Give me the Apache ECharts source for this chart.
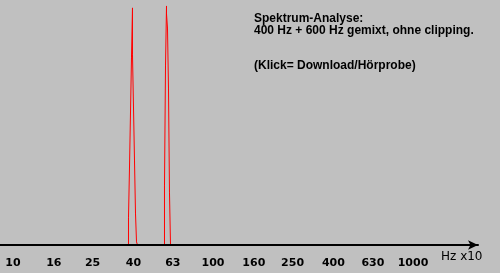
<!DOCTYPE html>
<html>
<head>
<meta charset="utf-8">
<script src="https://cdn.jsdelivr.net/npm/echarts@6/dist/echarts.min.js"></script>
<style>
html,body{margin:0;padding:0;background:#c0c0c0;}
#chart{width:500px;height:273px;}
</style>
</head>
<body>
<div id="chart"></div>
<script>
// Tick labels of the logarithmic frequency axis (Hz x10)
const tickValues = [10, 16, 25, 40, 63, 100, 160, 250, 400, 630, 1000];
const axisName = 'Hz x10';
const infoTitle = ['Spektrum-Analyse:', '400 Hz + 600 Hz gemixt, ohne clipping.'];
const infoLink = '(Klick= Download/Hörprobe)';

// Spectrum outline around 400 Hz (frequency in Hz x10, level 0..100)
const peak400Freq  = [37.80, 37.80, 38.24, 38.24, 38.68, 38.68, 39.13, 39.13, 39.58, 39.58, 39.58, 40.04, 40.04, 40.50, 40.50, 40.97, 40.97, 41.45, 41.45, 41.93, 41.93];
const peak400Level = [0, 11.3, 11.3, 32.5, 32.5, 55.0, 55.0, 78.3, 78.3, 98.8, 79.2, 79.2, 57.5, 57.5, 35.4, 35.4, 13.3, 13.3, 1.3, 1.3, 0];

// Spectrum outline around 600 Hz
const peak600Freq  = [57.21, 57.21, 57.88, 57.88, 58.55, 58.55, 58.55, 59.22, 59.22, 59.91, 59.91, 60.60, 60.60, 61.31, 61.31];
const peak600Level = [0, 24.6, 24.6, 74.6, 74.6, 99.6, 96.3, 96.3, 90.4, 90.4, 65.4, 65.4, 21.7, 21.7, 0];

const pairs = (xs, ys) => xs.map((x, i) => [x, ys[i]]);

const chart = echarts.init(document.getElementById('chart'), null, {renderer: 'canvas'});
chart.setOption({
  backgroundColor: '#c0c0c0',
  animation: false,
  title: [
    {
      text: infoTitle.join('\n'), left: 254, top: 13, padding: 0,
      textStyle: {fontFamily: 'Liberation Sans', fontSize: 12, fontWeight: 'bold', color: '#000', lineHeight: 12}
    },
    {
      text: infoLink, left: 254, top: 59.5, padding: 0,
      textStyle: {fontFamily: 'Liberation Sans', fontSize: 12, fontWeight: 'bold', color: '#000', lineHeight: 12}
    },
    {
      text: axisName, left: 441, top: 251, padding: 0,
      textStyle: {fontFamily: 'DejaVu Sans', fontSize: 12, fontWeight: 'normal', color: '#000', lineHeight: 12}
    }
  ],
  grid: {left: 0, right: 22, top: 5, bottom: 28, containLabel: false},
  xAxis: {
    type: 'log',
    logBase: 10,
    min: 8.6099,
    max: 2113.5,
    z: 10,
    axisLine: {
      show: true, onZero: false,
      lineStyle: {color: '#000', width: 2},
      symbol: ['none', 'arrow'],
      symbolSize: [7, 10],
      symbolOffset: [0, 0]
    },
    axisTick: {show: false},
    splitLine: {show: false},
    axisLabel: {
      show: true,
      customValues: tickValues,
      formatter: v => String(Math.round(v)),
      margin: 13,
      fontFamily: 'DejaVu Sans',
      fontWeight: 'bold',
      fontSize: 11,
      color: '#000'
    }
  },
  yAxis: {
    type: 'value', min: 0, max: 100, show: false,
    splitLine: {show: false}
  },
  series: [
    {
      type: 'line', data: pairs(peak400Freq, peak400Level),
      symbol: 'none', z: 2,
      lineStyle: {color: '#ff0000', width: 1}
    },
    {
      type: 'line', data: pairs(peak600Freq, peak600Level),
      symbol: 'none', z: 2,
      lineStyle: {color: '#ff0000', width: 1}
    }
  ]
});
</script>
</body>
</html>
